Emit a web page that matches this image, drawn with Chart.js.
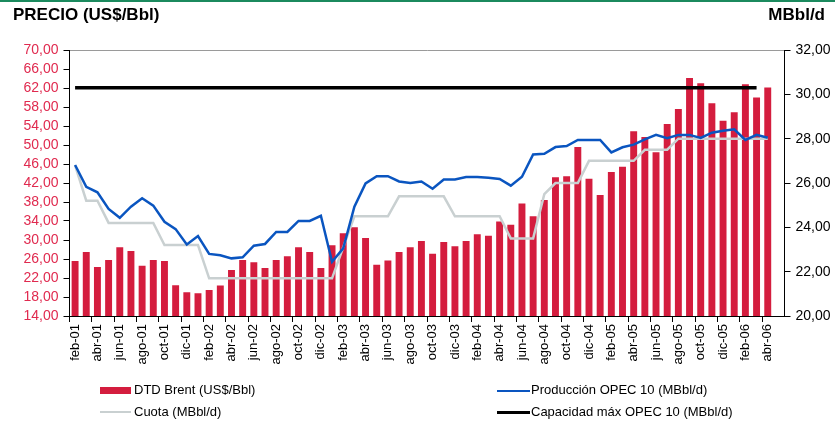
<!DOCTYPE html>
<html>
<head>
<meta charset="utf-8">
<script src="https://cdn.jsdelivr.net/npm/chart.js@4"></script>
<style>
  body { margin: 0; background: #fff; }
  #wrap { position: relative; width: 835px; height: 423px; font-family: "Liberation Sans", Arial, sans-serif; overflow: hidden; }
  #chart { position: absolute; left: 0; top: 0; }
  .txt { position: absolute; white-space: nowrap; color: #000; }
  .titulo { font-weight: bold; font-size: 17px; line-height: 20px; top: 5px; }
  .leg { font-size: 13px; line-height: 16px; }
  .sym { position: absolute; }
</style>
</head>
<body>
<div id="wrap">
  <div class="sym" style="left:0;top:0;width:835px;height:2px;background:#1b8a5e"></div>
  <canvas id="chart" width="835" height="423"></canvas>
  <div class="txt titulo" style="left:13px">PRECIO (US$/Bbl)</div>
  <div class="txt titulo" style="right:10px">MBbl/d</div>
  <div id="leyenda"></div>
</div>
<script>
// meses (el último queda vacío, como en el original)
const meses = [
  'feb-01','mar-01','abr-01','may-01','jun-01','jul-01','ago-01','sep-01','oct-01','nov-01','dic-01',
  'ene-02','feb-02','mar-02','abr-02','may-02','jun-02','jul-02','ago-02','sep-02','oct-02','nov-02','dic-02',
  'ene-03','feb-03','mar-03','abr-03','may-03','jun-03','jul-03','ago-03','sep-03','oct-03','nov-03','dic-03',
  'ene-04','feb-04','mar-04','abr-04','may-04','jun-04','jul-04','ago-04','sep-04','oct-04','nov-04','dic-04',
  'ene-05','feb-05','mar-05','abr-05','may-05','jun-05','jul-05','ago-05','sep-05','oct-05','nov-05','dic-05',
  'ene-06','feb-06','mar-06','abr-06','may-06'
];

// DTD Brent (US$/Bbl)
const brent = [
  25.6, 27.5, 24.3, 25.8, 28.5, 27.7, 24.6, 25.8, 25.6, 20.5, 19.0,
  18.8, 19.5, 20.4, 23.7, 25.8, 25.3, 24.1, 25.8, 26.6, 28.5, 27.5, 24.1,
  28.9, 31.4, 32.7, 30.4, 24.8, 25.7, 27.5, 28.5, 29.8, 27.1, 29.6, 28.7,
  29.8, 31.2, 30.9, 33.9, 33.2, 37.7, 35.0, 38.4, 43.2, 43.4, 49.6, 42.9,
  39.5, 44.3, 45.4, 52.9, 51.7, 48.5, 54.4, 57.6, 64.1, 63.0, 58.8, 55.1,
  56.9, 62.8, 60.0, 62.1, null
];

// Producción OPEC 10 (MBbl/d)
const produccion = [
  26.81, 25.83, 25.58, 24.83, 24.43, 24.93, 25.31, 24.98, 24.25, 23.92, 23.23,
  23.61, 22.80, 22.74, 22.60, 22.65, 23.17, 23.25, 23.79, 23.79, 24.29, 24.29, 24.52,
  22.45, 23.05, 24.93, 25.98, 26.31, 26.31, 26.07, 26.00, 26.07, 25.74, 26.16, 26.16,
  26.27, 26.27, 26.24, 26.18, 25.88, 26.28, 27.29, 27.32, 27.62, 27.67, 27.94, 27.94,
  27.94, 27.38, 27.61, 27.73, 27.97, 28.17, 28.02, 28.17, 28.17, 28.03, 28.27, 28.36,
  28.42, 27.94, 28.17, 28.04, null
];

// Cuota (MBbl/d)
const cuota = [
  26.8, 25.2, 25.2, 24.2, 24.2, 24.2, 24.2, 24.2, 23.2, 23.2, 23.2,
  23.2, 21.7, 21.7, 21.7, 21.7, 21.7, 21.7, 21.7, 21.7, 21.7, 21.7, 21.7,
  21.7, 23.1, 24.5, 24.5, 24.5, 24.5, 25.4, 25.4, 25.4, 25.4, 25.4, 24.5,
  24.5, 24.5, 24.5, 24.5, 23.5, 23.5, 23.5, 25.5, 26.0, 26.0, 26.0, 27.0,
  27.0, 27.0, 27.0, 27.0, 27.5, 27.5, 27.5, 28.0, 28.0, 28.0, 28.0, 28.0,
  28.0, 28.0, 28.0, 28.0, null
];

// Capacidad máx OPEC 10 (MBbl/d): tramo horizontal feb-01 .. mar-06
const capacidad = [
  { x: 'feb-01', y: 30.3 },
  { x: 'mar-06', y: 30.3 }
];

const fuente = { family: '"Liberation Sans", Arial, sans-serif', size: 14 };
const coma = v => v.toFixed(2).replace('.', ',');

const chart = new Chart(document.getElementById('chart'), {
  type: 'bar',
  data: {
    labels: meses,
    datasets: [
      { type: 'line', label: 'Capacidad máx OPEC 10 (MBbl/d)', data: capacidad, yAxisID: 'y1',
        borderColor: '#000', borderWidth: 3.5, pointRadius: 0, tension: 0, order: 1 },
      { type: 'line', label: 'Producción OPEC 10 (MBbl/d)', data: produccion, yAxisID: 'y1',
        borderColor: '#0a55c0', borderWidth: 2.5, pointRadius: 0, tension: 0, order: 2 },
      { type: 'line', label: 'Cuota (MBbl/d)', data: cuota, yAxisID: 'y1',
        borderColor: '#c9d0d1', borderWidth: 2.5, pointRadius: 0, tension: 0, order: 3 },
      { label: 'DTD Brent (US$/Bbl)', data: brent, yAxisID: 'y',
        backgroundColor: '#d41d3e', barPercentage: 0.62, categoryPercentage: 1, order: 4 }
    ]
  },
  options: {
    responsive: false,
    animation: false,
    layout: { padding: { top: 50, bottom: 51, left: 0, right: 0 } },
    plugins: { legend: { display: false }, tooltip: { enabled: false } },
    scales: {
      x: {
        offset: true,
        border: { color: '#000', width: 1 },
        grid: {
          offset: true, drawOnChartArea: false, tickLength: 6,
          tickColor: ctx => ctx.index % 2 === 0 ? '#000' : 'rgba(0,0,0,0)'
        },
        ticks: {
          autoSkip: false, minRotation: 90, maxRotation: 90, padding: 2,
          color: '#000', font: { ...fuente, size: 13 },
          callback: (v, i) => i % 2 === 0 ? meses[i] : ''
        },
        afterFit: s => { s.height = 56; }
      },
      y: {
        position: 'left', min: 14, max: 70,
        border: { color: '#000', width: 1 },
        grid: {
          tickLength: 6, tickColor: '#000',
          color: ctx => ctx.tick && ctx.tick.value === 70 ? '#9a9a9a' : 'rgba(0,0,0,0)'
        },
        ticks: { stepSize: 4, autoSkip: false, color: '#e02a4f', font: fuente, padding: 5, callback: v => coma(v) },
        afterFit: s => { s.width = 69.5; }
      },
      y1: {
        position: 'right', min: 20, max: 32,
        border: { color: '#000', width: 1 },
        grid: { drawOnChartArea: false, tickLength: 6, tickColor: '#000' },
        ticks: { stepSize: 2, autoSkip: false, color: '#000', font: fuente, padding: 5, callback: v => coma(v) },
        afterFit: s => { s.width = 50.5; }
      }
    }
  }
});

// leyenda en dos columnas, a partir de los datasets
const leyenda = document.getElementById('leyenda');
const posiciones = {
  'DTD Brent (US$/Bbl)': { x: 100, y: 381.5, sym: 'left:100px;top:387px;width:31px;height:7px' },
  'Cuota (MBbl/d)': { x: 100, y: 403.5, sym: 'left:100px;top:411px;width:31px;height:2px' },
  'Producción OPEC 10 (MBbl/d)': { x: 497, y: 381.5, sym: 'left:497px;top:389.5px;width:33px;height:2px' },
  'Capacidad máx OPEC 10 (MBbl/d)': { x: 497, y: 403.5, sym: 'left:497px;top:410.5px;width:33px;height:3px' }
};
chart.data.datasets.forEach(ds => {
  const p = posiciones[ds.label];
  const color = ds.type === 'line' ? ds.borderColor : ds.backgroundColor;
  const s = document.createElement('div');
  s.className = 'sym';
  s.style.cssText = p.sym + ';background:' + color;
  leyenda.appendChild(s);
  const t = document.createElement('div');
  t.className = 'txt leg';
  t.style.left = (p.x + 34) + 'px';
  t.style.top = p.y + 'px';
  t.textContent = ds.label;
  leyenda.appendChild(t);
});
</script>
</body>
</html>
